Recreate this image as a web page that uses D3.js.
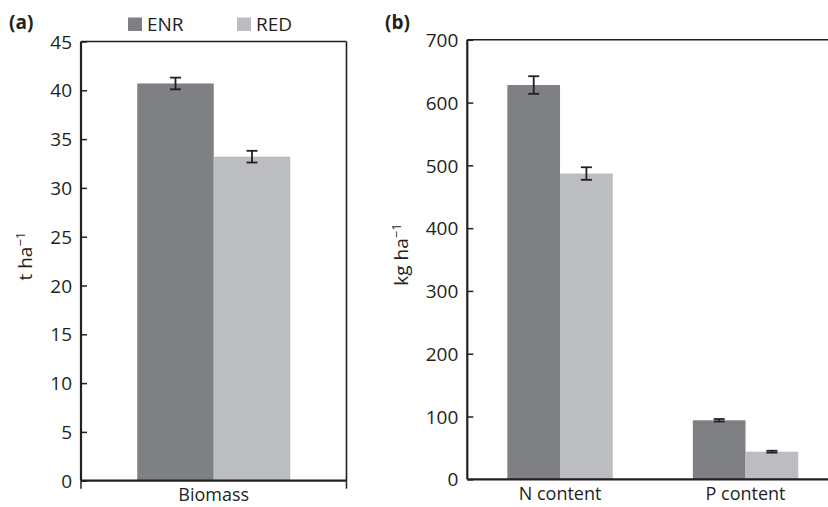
<!DOCTYPE html>
<html><head><meta charset="utf-8">
<script src="https://cdn.jsdelivr.net/npm/d3@7"></script>
<style>body{margin:0;background:#fff}svg{display:block}text{font-family:"Open Sans",sans-serif;fill:#231f20}</style>
</head><body><svg id="c" width="828" height="507"></svg>
<script>
const series = ["ENR", "RED"];
const colors = ["#7f8084", "#bcbdc1"];
const catsA = ["Biomass"];
const valsA = {ENR: [40.7], RED: [33.2]};
const errA = {ENR: [0.6], RED: [0.6]};
const ticksA = [0, 5, 10, 15, 20, 25, 30, 35, 40, 45];
const catsB = ["N content", "P content"];
const valsB = {ENR: [628, 94], RED: [487, 44]};
const errB = {ENR: [14, 2], RED: [10, 1.5]};
const ticksB = [0, 100, 200, 300, 400, 500, 600, 700];

const svg = d3.select("#c");
const ink = "#231f20";
const fs = "19px";

function panel(o) {
  const g = svg.append("g");
  const y = d3.scaleLinear().domain([0, o.max]).range([o.y0, o.y1]);
  const x = d3.scaleBand().domain(o.cats).range([o.x0, o.x1]).paddingInner(0).paddingOuter(0);
  const xs = d3.scaleBand().domain(series).range([0, x.bandwidth()]).paddingInner(0).paddingOuter(o.pad);
  g.append("line").attr("x1", o.x0).attr("x2", o.x1).attr("y1", o.y1).attr("y2", o.y1).attr("stroke", ink).attr("stroke-width", 1.6);
  if (o.rightFrame) g.append("line").attr("x1", o.x1).attr("x2", o.x1).attr("y1", o.y1).attr("y2", o.y0).attr("stroke", ink).attr("stroke-width", 1.6);
  series.forEach((s, si) => {
    o.cats.forEach((c, ci) => {
      const v = o.vals[s][ci], e = o.err[s][ci];
      const bx = x(c) + xs(s);
      g.append("rect").attr("x", bx).attr("y", y(v)).attr("width", xs.bandwidth()).attr("height", y(0) - y(v)).attr("fill", colors[si]);
      const cx = bx + xs.bandwidth() / 2;
      g.append("line").attr("x1", cx).attr("x2", cx).attr("y1", y(v + e)).attr("y2", y(v - e)).attr("stroke", ink).attr("stroke-width", 1.8);
      [v + e, v - e].forEach(t => g.append("line").attr("x1", cx - 5.5).attr("x2", cx + 5.5).attr("y1", y(t)).attr("y2", y(t)).attr("stroke", ink).attr("stroke-width", 1.8));
    });
  });
  const ya = g.append("g").attr("transform", `translate(${o.x0},0)`)
    .call(d3.axisRight(y).tickValues(o.ticks).tickSize(6).tickFormat(d3.format("d")));
  ya.select(".domain").attr("stroke", ink).attr("stroke-width", 2.2).attr("d", `M0,${o.y1}V${o.y0}`);
  ya.selectAll(".tick line").attr("stroke", ink).attr("stroke-width", 1.5);
  ya.selectAll(".tick text").attr("x", -9).attr("text-anchor", "end").attr("dy", "0.35em").style("font-size", fs).attr("fill", ink);
  const xa = g.append("g").attr("transform", `translate(0,${o.y0})`)
    .call(d3.axisBottom(x).tickSize(0).tickPadding(8));
  xa.select(".domain").attr("stroke", ink).attr("stroke-width", 2.2).attr("d", `M${o.x0},0H${o.x1}`);
  xa.selectAll(".tick text").style("font-size", "18px").attr("fill", ink);
  if (o.endTicks) {
    [o.x0, o.x1].forEach(t => g.append("line").attr("x1", t).attr("x2", t).attr("y1", o.y0).attr("y2", o.y0 + 8).attr("stroke", ink).attr("stroke-width", 1.5));
  }
  const lab = g.append("text").attr("transform", `translate(${o.lx},${(o.y0 + o.y1) / 2 - 5}) rotate(-90)`).attr("text-anchor", "middle").style("font-size", fs);
  lab.append("tspan").text(o.unit + " ha");
  lab.append("tspan").attr("dy", "-0.55em").style("font-size", "13px").text("\u22121");
  g.append("text").attr("x", o.px).attr("y", 29).style("font-size", "19px").style("font-weight", "bold").text(o.panelLabel);
  return g;
}

panel({cats: catsA, vals: valsA, err: errA, ticks: ticksA, max: 45, x0: 81, x1: 346.5, y0: 480.7, y1: 41.5,
  pad: 0.735, rightFrame: true, endTicks: true, lx: 32, unit: "t", px: 9, panelLabel: "(a)"});
panel({cats: catsB, vals: valsB, err: errB, ticks: ticksB, max: 700, x0: 467.3, x1: 838.3, y0: 479.3, y1: 39.8,
  pad: 0.76, rightFrame: false, endTicks: false, lx: 408, unit: "kg", px: 385, panelLabel: "(b)"});

const leg = svg.append("g");
const legX = [128, 237];
series.forEach((s, i) => {
  leg.append("rect").attr("x", legX[i]).attr("y", 17.5).attr("width", 14).attr("height", 13.5).attr("fill", colors[i]);
  leg.append("text").attr("x", legX[i] + 19).attr("y", 31).style("font-size", fs).text(s);
});
</script></body></html>
